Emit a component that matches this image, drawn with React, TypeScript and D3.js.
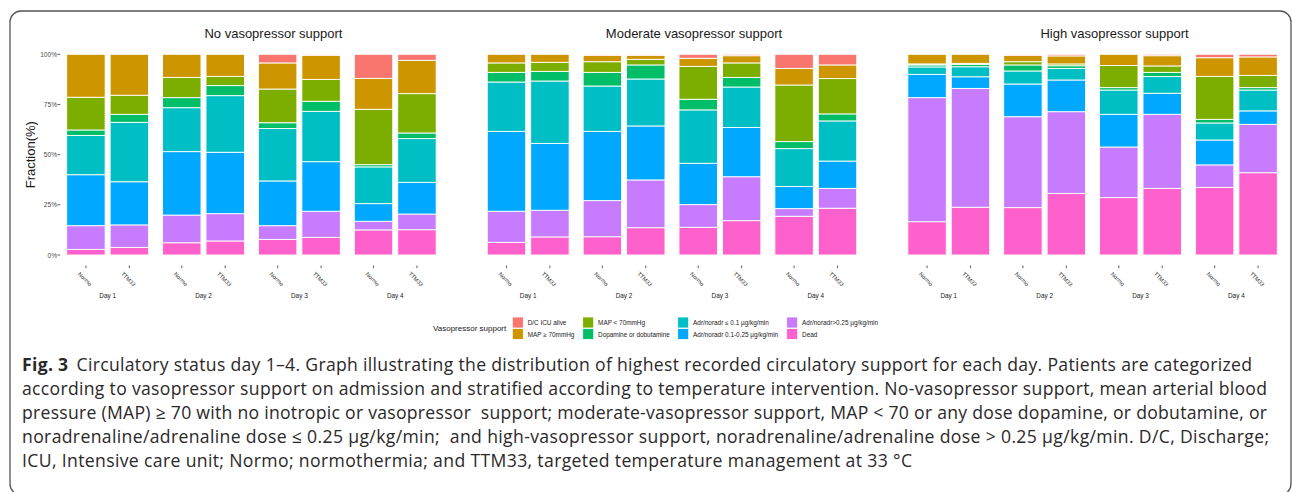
import React from "react";
import * as d3 from "d3";

const statuses = [
  "D/C ICU alive",
  "MAP ≥ 70mmHg",
  "MAP < 70mmHg",
  "Dopamine or dobutamine",
  "Adr/noradr ≤ 0.1 µg/kg/min",
  "Adr/noradr 0.1-0.25 µg/kg/min",
  "Adr/noradr>0.25 µg/kg/min",
  "Dead",
];
const statusColors = ["#F8766D", "#CD9600", "#7CAE00", "#00BE67", "#00BFC4", "#00A9FF", "#C77CFF", "#FF61CC"];

const groups = ["No vasopressor support", "Moderate vasopressor support", "High vasopressor support"];
const days = ["Day 1", "Day 2", "Day 3", "Day 4"];
const arms = ["Normo", "TTM33"];
const yTicks = [0, 0.25, 0.5, 0.75, 1];
const yTickLabels = ["0%", "25%", "50%", "75%", "100%"];

// one row per bar: Day 1 Normo, Day 1 TTM33, Day 2 Normo, ... ; columns in status order
const noVasoBars = [
  [0, 0.214, 0.163, 0.027, 0.196, 0.254, 0.118, 0.028],
  [0, 0.204, 0.095, 0.04, 0.296, 0.215, 0.112, 0.038],
  [0, 0.115, 0.101, 0.05, 0.219, 0.316, 0.138, 0.061],
  [0, 0.11, 0.046, 0.05, 0.282, 0.306, 0.136, 0.07],
  [0.043, 0.13, 0.168, 0.029, 0.261, 0.223, 0.068, 0.078],
  [0.005, 0.12, 0.109, 0.05, 0.251, 0.247, 0.13, 0.088],
  [0.12, 0.154, 0.276, 0.011, 0.183, 0.088, 0.043, 0.125],
  [0.03, 0.166, 0.196, 0.028, 0.218, 0.158, 0.078, 0.126],
];
const moderateBars = [
  [0, 0.043, 0.047, 0.048, 0.246, 0.398, 0.155, 0.063],
  [0, 0.04, 0.045, 0.048, 0.311, 0.333, 0.133, 0.09],
  [0.005, 0.032, 0.053, 0.068, 0.226, 0.345, 0.18, 0.091],
  [0.005, 0.02, 0.028, 0.07, 0.234, 0.269, 0.238, 0.136],
  [0.02, 0.04, 0.164, 0.053, 0.266, 0.206, 0.113, 0.138],
  [0.007, 0.036, 0.072, 0.048, 0.202, 0.245, 0.219, 0.171],
  [0.07, 0.083, 0.282, 0.035, 0.189, 0.11, 0.038, 0.193],
  [0.053, 0.068, 0.176, 0.035, 0.2, 0.136, 0.099, 0.233],
];
const highBars = [
  [0, 0.048, 0.005, 0.01, 0.037, 0.116, 0.618, 0.166],
  [0, 0.045, 0.005, 0.012, 0.05, 0.058, 0.592, 0.238],
  [0.005, 0.032, 0.016, 0.03, 0.065, 0.163, 0.453, 0.236],
  [0.008, 0.04, 0.009, 0.013, 0.058, 0.158, 0.407, 0.307],
  [0, 0.056, 0.11, 0.012, 0.121, 0.163, 0.252, 0.286],
  [0.007, 0.051, 0.032, 0.021, 0.083, 0.105, 0.369, 0.332],
  [0.017, 0.093, 0.214, 0.018, 0.085, 0.124, 0.112, 0.337],
  [0.013, 0.092, 0.061, 0.012, 0.104, 0.067, 0.241, 0.41],
];
const panelBars = [noVasoBars, moderateBars, highBars];

const captionLines = [
  "Circulatory status day 1–4. Graph illustrating the distribution of highest recorded circulatory support for each day. Patients are categorized",
  "according to vasopressor support on admission and stratified according to temperature intervention. No-vasopressor support, mean arterial blood",
  "pressure (MAP) ≥ 70 with no inotropic or vasopressor  support; moderate-vasopressor support, MAP < 70 or any dose dopamine, or dobutamine, or",
  "noradrenaline/adrenaline dose ≤ 0.25 µg/kg/min;  and high-vasopressor support, noradrenaline/adrenaline dose > 0.25 µg/kg/min. D/C, Discharge;",
  "ICU, Intensive care unit; Normo; normothermia; and TTM33, targeted temperature management at 33 °C",
];

const W = 1292;
const H = 492;
const FONT = "'Liberation Sans', Arial, Helvetica, sans-serif";
const CAPTION_FONT = "'Open Sans', 'Noto Sans', sans-serif";

export default function App() {
  const panelX = d3.scaleBand<number>().domain([0, 1, 2]).range([66.7, 1277.3]).paddingInner(0.1215);
  const y = d3.scaleLinear().domain([0, 1]).range([255, 54.3]);

  const stackKeys = [...statuses].reverse();
  const stack = d3
    .stack<Record<string, number>>()
    .keys(stackKeys)
    .offset(d3.stackOffsetExpand);

  // right ends of the caption lines
  const lineEnds = [1252, 1267, 1267, 1269, 912];

  return (
    <svg
      width={W}
      height={H}
      style={{ position: "absolute", left: 0, top: 0, display: "block", background: "#fff" }}
      fontFamily={FONT}
    >
      <rect x={10} y={11} width={1281} height={484} rx={11} fill="none" stroke="#555" strokeWidth={1.3} />

      <text
        transform={`translate(30,${(y(0) + y(1)) / 2}) rotate(-90)`}
        textAnchor="middle"
        dominantBaseline="central"
        fontSize={13}
        fill="#1a1a1a"
      >
        Fraction(%)
      </text>

      {yTicks.map((t, i) => (
        <g key={t}>
          <line x1={57.5} x2={60.2} y1={y(t)} y2={y(t)} stroke="#333" strokeWidth={0.8} />
          <text x={57} y={y(t)} textAnchor="end" dominantBaseline="central" fontSize={6.6} fill="#4d4d4d">
            {yTickLabels[i]}
          </text>
        </g>
      ))}

      {groups.map((g, gi) => {
        const px = panelX(gi)!;
        const dayX = d3.scaleBand<string>().domain(days).range([px, px + panelX.bandwidth()]).paddingInner(0.146);
        const armX = d3.scaleBand<string>().domain(arms).range([0, dayX.bandwidth()]).paddingInner(0.115);
        const rows = panelBars[gi].map((vals) => {
          const o: Record<string, number> = {};
          statuses.forEach((s, si) => (o[s] = vals[si]));
          return o;
        });
        const series = stack(rows);
        const barX = (bi: number) => dayX(days[Math.floor(bi / 2)])! + armX(arms[bi % 2])!;
        return (
          <g key={g}>
            <text
              x={px + panelX.bandwidth() / 2 + 22}
              y={33}
              textAnchor="middle"
              dominantBaseline="central"
              fontSize={13}
              fill="#1a1a1a"
            >
              {g}
            </text>
            {series.map((s) => (
              <g key={s.key} fill={statusColors[statuses.indexOf(s.key)]}>
                {s.map((d, bi) =>
                  d[1] - d[0] > 0 ? (
                    <rect
                      key={bi}
                      x={barX(bi)}
                      width={armX.bandwidth()}
                      y={y(d[1])}
                      height={y(d[0]) - y(d[1])}
                      stroke="#fff"
                      strokeWidth={0.9}
                    />
                  ) : null
                )}
              </g>
            ))}
            {rows.map((_, bi) => {
              const cx = barX(bi) + armX.bandwidth() / 2;
              return (
                <g key={bi}>
                  <line x1={cx} x2={cx} y1={265.5} y2={268.2} stroke="#333" strokeWidth={0.8} />
                  <text
                    transform={`translate(${cx - 1},279) rotate(45)`}
                    textAnchor="middle"
                    dominantBaseline="central"
                    fontSize={5.6}
                    fill="#333"
                  >
                    {arms[bi % 2]}
                  </text>
                </g>
              );
            })}
            {days.map((d) => (
              <text
                key={d}
                x={dayX(d)! + dayX.bandwidth() / 2}
                y={295}
                textAnchor="middle"
                dominantBaseline="central"
                fontSize={6.4}
                fill="#1a1a1a"
              >
                {d}
              </text>
            ))}
          </g>
        );
      })}

      {/* legend */}
      <text x={433} y={328} dominantBaseline="central" fontSize={8} fill="#1a1a1a">
        Vasopressor support
      </text>
      {statuses.map((s, i) => {
        const colX = [512.3, 582.7, 677.7, 786.7][Math.floor(i / 2)];
        const rowY = 317 + (i % 2) * 11.5;
        return (
          <g key={s}>
            <rect x={colX} y={rowY} width={11} height={11} fill={statusColors[i]} stroke="#fff" strokeWidth={0.8} />
            <text x={colX + 15.4} y={rowY + 5.5} dominantBaseline="central" fontSize={6.4} fill="#1a1a1a">
              {s}
            </text>
          </g>
        );
      })}

      {/* caption */}
      <g fontFamily={CAPTION_FONT} fontSize={17.6} fill="#2b2829">
        {captionLines.map((line, i) => {
          const yy = 371 + i * 24;
          if (i === 0) {
            return (
              <text key={i} x={22} y={yy} textLength={lineEnds[0] - 22} lengthAdjust="spacing">
                <tspan fontWeight="bold">Fig. 3</tspan>
                <tspan dx={8}>{line}</tspan>
              </text>
            );
          }
          return (
            <text key={i} x={22} y={yy} textLength={lineEnds[i] - 22} lengthAdjust="spacing" style={{ whiteSpace: "pre" }}>
              {line}
            </text>
          );
        })}
      </g>
    </svg>
  );
}
